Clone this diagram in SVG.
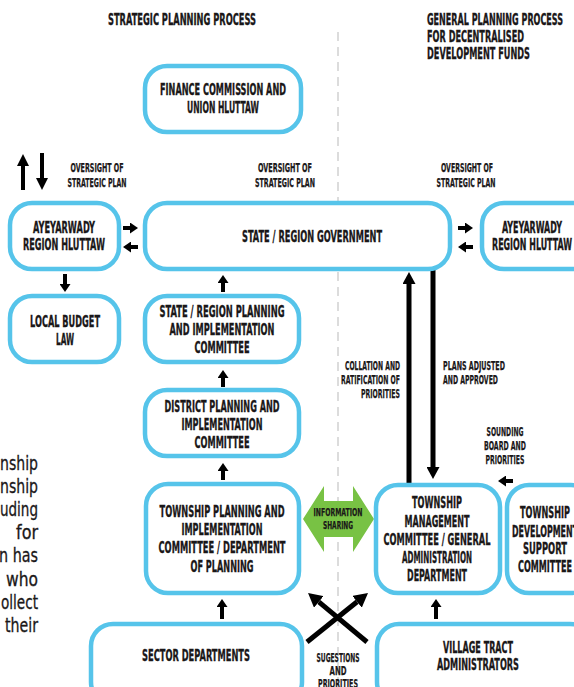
<svg xmlns="http://www.w3.org/2000/svg" width="574" height="687" viewBox="0 0 574 687">
<style>
.box{fill:#fff;stroke:#56C4EA;stroke-width:4.5}
.t{font-family:"DejaVu Sans Condensed","Liberation Sans Narrow","Liberation Sans",sans-serif;font-weight:bold;font-size:16.5px;fill:#1a1718;stroke:#1a1718;stroke-width:0.35;text-anchor:middle}
.s{font-family:"DejaVu Sans Condensed","Liberation Sans Narrow","Liberation Sans",sans-serif;font-weight:bold;font-size:12.5px;fill:#1a1718;stroke:#1a1718;stroke-width:0.25;text-anchor:middle}
.e{text-anchor:end}
.st{text-anchor:start}
.f{font-family:"DejaVu Sans Condensed","Liberation Sans Narrow","Liberation Sans",sans-serif;font-size:20px;fill:#1a1718;stroke:#1a1718;stroke-width:0.3;text-anchor:end}
.c{stroke:#000;stroke-width:4;fill:none}
.cl{stroke:#000;stroke-width:5;fill:none}
</style>
<defs>
<marker id="hs" markerUnits="userSpaceOnUse" viewBox="0 0 8 11" markerWidth="8" markerHeight="11" refX="0" refY="5.5" orient="auto"><path d="M0,0 L8,5.5 L0,11 Z" fill="#000"/></marker>
<marker id="hm" markerUnits="userSpaceOnUse" viewBox="0 0 12 12" markerWidth="12" markerHeight="12" refX="0" refY="6" orient="auto"><path d="M0,0 L12,6 L0,12 Z" fill="#000"/></marker>
<marker id="hl" markerUnits="userSpaceOnUse" viewBox="0 0 12 13" markerWidth="12" markerHeight="13" refX="0" refY="6.5" orient="auto"><path d="M0,0 L12,6.5 L0,13 Z" fill="#000"/></marker>
<marker id="hx" markerUnits="userSpaceOnUse" viewBox="0 0 14 15" markerWidth="14" markerHeight="15" refX="0" refY="7.5" orient="auto"><path d="M0,0 L14,7.5 L0,15 Z" fill="#000"/></marker>
</defs>
<rect width="574" height="687" fill="#fff"/>

<!-- divider -->
<line x1="338" y1="32" x2="338" y2="687" stroke="#d4d4d4" stroke-width="1.6" stroke-dasharray="9 6"/>

<!-- headers -->
<g id="headers">
<text class="t" x="182" y="25" textLength="148" lengthAdjust="spacingAndGlyphs">STRATEGIC PLANNING PROCESS</text>
<text class="t st" x="427" y="25" textLength="136" lengthAdjust="spacingAndGlyphs">GENERAL PLANNING PROCESS</text>
<text class="t st" x="427" y="42" textLength="97" lengthAdjust="spacingAndGlyphs">FOR DECENTRALISED</text>
<text class="t st" x="427" y="59" textLength="103" lengthAdjust="spacingAndGlyphs">DEVELOPMENT FUNDS</text>
</g>

<!-- clipped body text fragments -->
<g id="fragments">
<text class="f" x="38" y="470" textLength="38" lengthAdjust="spacingAndGlyphs">nship</text>
<text class="f" x="38" y="493" textLength="38" lengthAdjust="spacingAndGlyphs">nship</text>
<text class="f" x="38" y="516" textLength="38" lengthAdjust="spacingAndGlyphs">uding</text>
<text class="f" x="38" y="539" textLength="22" lengthAdjust="spacingAndGlyphs">for</text>
<text class="f" x="38" y="562" textLength="39" lengthAdjust="spacingAndGlyphs">n has</text>
<text class="f" x="38" y="586" textLength="32" lengthAdjust="spacingAndGlyphs">who</text>
<text class="f" x="38" y="609" textLength="37" lengthAdjust="spacingAndGlyphs">ollect</text>
<text class="f" x="38" y="632" textLength="33" lengthAdjust="spacingAndGlyphs">their</text>
</g>

<!-- connectors -->
<g id="connectors">
<line class="c" x1="23" y1="190" x2="23" y2="166" marker-end="url(#hm)"/>
<line class="c" x1="42" y1="153" x2="42" y2="178" marker-end="url(#hm)"/>
<line class="c" x1="123" y1="228" x2="130" y2="228" marker-end="url(#hs)"/>
<line class="c" x1="138" y1="247" x2="131" y2="247" marker-end="url(#hs)"/>
<line class="c" x1="458" y1="228" x2="465" y2="228" marker-end="url(#hs)"/>
<line class="c" x1="473" y1="247" x2="466" y2="247" marker-end="url(#hs)"/>
<line class="c" x1="65" y1="274" x2="65" y2="284" marker-end="url(#hs)"/>
<line class="c" x1="223" y1="292" x2="223" y2="283" marker-end="url(#hs)"/>
<line class="c" x1="223" y1="387" x2="223" y2="378" marker-end="url(#hs)"/>
<line class="c" x1="223" y1="480" x2="223" y2="471" marker-end="url(#hs)"/>
<line class="c" x1="222" y1="619" x2="222" y2="607" marker-end="url(#hs)"/>
<line class="c" x1="436" y1="619" x2="436" y2="607" marker-end="url(#hs)"/>
<line class="cl" x1="409" y1="485" x2="409" y2="284" marker-end="url(#hl)"/>
<line class="cl" x1="433" y1="268" x2="433" y2="467" marker-end="url(#hl)"/>
<line class="c" x1="513" y1="481" x2="506" y2="481" marker-end="url(#hs)"/>
<line class="cl" x1="367" y1="642" x2="318.8" y2="601.9" marker-end="url(#hx)"/>
<line class="cl" x1="307" y1="642" x2="357.1" y2="601.8" marker-end="url(#hx)"/>
<g id="info-sharing">
<polygon points="303,519 324,486 324,501 353,501 353,486 374,519 353,552 353,537 324,537 324,552" fill="#78C244"/>
<text class="s" x="338" y="516" style="font-size:11px" textLength="49" lengthAdjust="spacingAndGlyphs">INFORMATION</text>
<text class="s" x="338" y="529" style="font-size:11px" textLength="30" lengthAdjust="spacingAndGlyphs">SHARING</text>
</g>
</g>

<!-- connector labels -->
<g id="labels">
<text class="s" x="97" y="172" textLength="53" lengthAdjust="spacingAndGlyphs">OVERSIGHT OF</text>
<text class="s" x="97" y="187" textLength="59" lengthAdjust="spacingAndGlyphs">STRATEGIC PLAN</text>
<text class="s" x="285" y="172" textLength="54" lengthAdjust="spacingAndGlyphs">OVERSIGHT OF</text>
<text class="s" x="285" y="187" textLength="60" lengthAdjust="spacingAndGlyphs">STRATEGIC PLAN</text>
<text class="s" x="467" y="172" textLength="52" lengthAdjust="spacingAndGlyphs">OVERSIGHT OF</text>
<text class="s" x="466" y="187" textLength="59" lengthAdjust="spacingAndGlyphs">STRATEGIC PLAN</text>
<text class="s e" x="400" y="370" textLength="55" lengthAdjust="spacingAndGlyphs">COLLATION AND</text>
<text class="s e" x="400" y="384" textLength="59" lengthAdjust="spacingAndGlyphs">RATIFICATION OF</text>
<text class="s e" x="400" y="398" textLength="39" lengthAdjust="spacingAndGlyphs">PRIORITIES</text>
<text class="s st" x="443" y="370" textLength="62" lengthAdjust="spacingAndGlyphs">PLANS ADJUSTED</text>
<text class="s st" x="443" y="384" textLength="55" lengthAdjust="spacingAndGlyphs">AND APPROVED</text>
<text class="s" x="505" y="436" textLength="37" lengthAdjust="spacingAndGlyphs">SOUNDING</text>
<text class="s" x="505" y="450" textLength="42" lengthAdjust="spacingAndGlyphs">BOARD AND</text>
<text class="s" x="505" y="464" textLength="39" lengthAdjust="spacingAndGlyphs">PRIORITIES</text>
<text class="s" x="338" y="662" textLength="43" lengthAdjust="spacingAndGlyphs">SUGESTIONS</text>
<text class="s" x="338" y="675" textLength="17" lengthAdjust="spacingAndGlyphs">AND</text>
<text class="s" x="338" y="688" textLength="40" lengthAdjust="spacingAndGlyphs">PRIORITIES</text>
</g>

<!-- nodes -->
<g id="finance">
<rect class="box" x="145" y="66" width="156" height="66" rx="22"/>
<text class="t" x="223" y="95" textLength="126" lengthAdjust="spacingAndGlyphs">FINANCE COMMISSION AND</text>
<text class="t" x="223" y="113" textLength="72" lengthAdjust="spacingAndGlyphs">UNION HLUTTAW</text>
</g>
<g id="hluttaw-left">
<rect class="box" x="10" y="203" width="109" height="66" rx="22"/>
<text class="t" x="64" y="233" textLength="62" lengthAdjust="spacingAndGlyphs">AYEYARWADY</text>
<text class="t" x="64" y="250" textLength="82" lengthAdjust="spacingAndGlyphs">REGION HLUTTAW</text>
</g>
<g id="state-gov">
<rect class="box" x="145" y="203" width="305" height="66" rx="22"/>
<text class="t" x="312" y="242" textLength="140" lengthAdjust="spacingAndGlyphs">STATE / REGION GOVERNMENT</text>
</g>
<g id="hluttaw-right">
<rect class="box" x="482" y="203" width="112" height="66" rx="22"/>
<text class="t" x="532" y="233" textLength="60" lengthAdjust="spacingAndGlyphs">AYEYARWADY</text>
<text class="t" x="532" y="250" textLength="80" lengthAdjust="spacingAndGlyphs">REGION HLUTTAW</text>
</g>
<g id="local-budget">
<rect class="box" x="10" y="296" width="109" height="66" rx="22"/>
<text class="t" x="65" y="327" textLength="70" lengthAdjust="spacingAndGlyphs">LOCAL BUDGET</text>
<text class="t" x="65" y="345" textLength="18" lengthAdjust="spacingAndGlyphs">LAW</text>
</g>
<g id="state-planning">
<rect class="box" x="145" y="296" width="154" height="66" rx="22"/>
<text class="t" x="222" y="317" textLength="125" lengthAdjust="spacingAndGlyphs">STATE / REGION PLANNING</text>
<text class="t" x="222" y="335" textLength="105" lengthAdjust="spacingAndGlyphs">AND IMPLEMENTATION</text>
<text class="t" x="222" y="353" textLength="55" lengthAdjust="spacingAndGlyphs">COMMITTEE</text>
</g>
<g id="district">
<rect class="box" x="145" y="390" width="154" height="66" rx="22"/>
<text class="t" x="222" y="412" textLength="115" lengthAdjust="spacingAndGlyphs">DISTRICT PLANNING AND</text>
<text class="t" x="222" y="430" textLength="81" lengthAdjust="spacingAndGlyphs">IMPLEMENTATION</text>
<text class="t" x="222" y="448" textLength="55" lengthAdjust="spacingAndGlyphs">COMMITTEE</text>
</g>
<g id="township-planning">
<rect class="box" x="146" y="484" width="153" height="109" rx="22"/>
<text class="t" x="222" y="517" textLength="125" lengthAdjust="spacingAndGlyphs">TOWNSHIP PLANNING AND</text>
<text class="t" x="222" y="535" textLength="81" lengthAdjust="spacingAndGlyphs">IMPLEMENTATION</text>
<text class="t" x="222" y="553" textLength="127" lengthAdjust="spacingAndGlyphs">COMMITTEE / DEPARTMENT</text>
<text class="t" x="222" y="572" textLength="63" lengthAdjust="spacingAndGlyphs">OF PLANNING</text>
</g>
<g id="township-management">
<rect class="box" x="376" y="485" width="124" height="108" rx="22"/>
<text class="t" x="437" y="508" textLength="50" lengthAdjust="spacingAndGlyphs">TOWNSHIP</text>
<text class="t" x="437" y="527" textLength="65" lengthAdjust="spacingAndGlyphs">MANAGEMENT</text>
<text class="t" x="437" y="545" textLength="107" lengthAdjust="spacingAndGlyphs">COMMITTEE / GENERAL</text>
<text class="t" x="437" y="563" textLength="70" lengthAdjust="spacingAndGlyphs">ADMINISTRATION</text>
<text class="t" x="437" y="581" textLength="60" lengthAdjust="spacingAndGlyphs">DEPARTMENT</text>
</g>
<g id="township-development">
<rect class="box" x="507" y="485" width="86" height="108" rx="22"/>
<text class="t" x="545" y="518" textLength="50" lengthAdjust="spacingAndGlyphs">TOWNSHIP</text>
<text class="t" x="545" y="537" textLength="66" lengthAdjust="spacingAndGlyphs">DEVELOPMENT</text>
<text class="t" x="545" y="554" textLength="44" lengthAdjust="spacingAndGlyphs">SUPPORT</text>
<text class="t" x="545" y="572" textLength="54" lengthAdjust="spacingAndGlyphs">COMMITTEE</text>
</g>
<g id="sector">
<rect class="box" x="91" y="624" width="211" height="80" rx="22"/>
<text class="t" x="196" y="661" textLength="108" lengthAdjust="spacingAndGlyphs">SECTOR DEPARTMENTS</text>
</g>
<g id="village-tract">
<rect class="box" x="377" y="624" width="215" height="80" rx="22"/>
<text class="t" x="478" y="653" textLength="70" lengthAdjust="spacingAndGlyphs">VILLAGE TRACT</text>
<text class="t" x="478" y="670" textLength="82" lengthAdjust="spacingAndGlyphs">ADMINISTRATORS</text>
</g>
</svg>
